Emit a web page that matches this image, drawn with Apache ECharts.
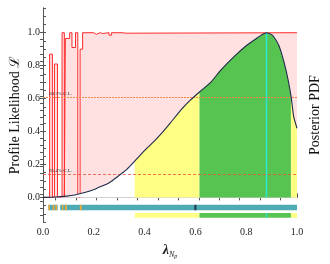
<!DOCTYPE html>
<html><head><meta charset="utf-8">
<script src="https://cdn.jsdelivr.net/npm/echarts@6/dist/echarts.min.js"></script>
<style>html,body{margin:0;padding:0;background:#fff}#c{width:330px;height:264px}</style>
</head><body><div id="c"></div>
<script>
// ---- data ----
const likeEdges  = [0, 0.026, 0.037, 0.045, 0.057, 0.075, 0.084, 0.088, 0.105, 0.114, 0.128, 0.137, 0.146, 0.156, 0.20, 0.21, 0.225, 0.235, 0.26, 0.27, 0.31, 0.33, 1.0];
const likeValues = [0,  0.87,  0,     0.81,  0,     1.0,   0,     0.965, 1.0,   0.91,  1.0,   0,     0.90,  1.0,   0.99, 1.0,  0.995, 1.0,   0.985,1.0,  0.997,1.0,  1.0];
const clLevels = [0.607, 0.135];
const clLabels = ['68.3% C.L.', '95.4% C.L.'];
const postX = [0.0, 0.05, 0.093, 0.125, 0.156, 0.19, 0.22, 0.25, 0.271, 0.297, 0.33, 0.361, 0.41, 0.44, 0.47, 0.50, 0.546, 0.58, 0.616, 0.661, 0.70, 0.75, 0.80, 0.84, 0.865, 0.88, 0.904, 0.929, 0.955, 0.976, 0.987, 1.0];
const postY = [0.0, 0.002, 0.008, 0.015, 0.027, 0.042, 0.061, 0.08, 0.10, 0.13, 0.17, 0.22, 0.30, 0.345, 0.395, 0.45, 0.536, 0.59, 0.64, 0.70, 0.773, 0.852, 0.921, 0.965, 0.99, 1.0, 0.984, 0.921, 0.783, 0.62, 0.49, 0.42];
const yellowRanges = [[0.361, 0.616], [0.976, 1.0]];
const greenRanges = [[0.616, 0.976]];
const postMode = 0.88;
const profTeal = [[0.021, 0.058], [0.068, 1.0]];
const profOrange = [[0.021, 0.027], [0.038, 0.044], [0.049, 0.055], [0.075, 0.080], [0.087, 0.094], [0.145, 0.152]];
const bestFit = 0.6;
const xTicks = [0, 0.2, 0.4, 0.6, 0.8, 1.0];
const yTicks = [0, 0.2, 0.4, 0.6, 0.8, 1.0];

// ---- build ----
const serif = 'Liberation Serif';
const likeData = likeEdges.map((x, i) => [x, likeValues[i]]);
const postData = postX.map((x, i) => [x, postY[i]]);
const inRange = r => postData.filter(p => p[0] >= r[0] - 1e-9 && p[0] <= r[1] + 1e-9);

const topTicks = []; for (let k = 0; k < 12; k++) topTicks.push(+(0.05 + k * 0.0805).toFixed(4));
const rightTicks = []; for (let k = 0; k < 27; k++) rightTicks.push(+(1.0 - k * 0.0426).toFixed(4));

function band(segs, yTop, yBot, color, z) {
  return {
    type: 'custom', coordinateSystem: 'cartesian2d', xAxisIndex: 0, yAxisIndex: 0, z: z || 5,
    silent: true, clip: true,
    data: segs.map(s => [s[0], s[1], (yTop + yBot) / 2]),
    encode: { x: [0, 1], y: 2 },
    renderItem: function (params, api) {
      const p0 = api.coord([api.value(0), yTop]);
      const p1 = api.coord([api.value(1), yBot]);
      return { type: 'rect', shape: { x: p0[0], y: p0[1], width: Math.max(p1[0] - p0[0], 1), height: p1[1] - p0[1] }, style: { fill: color } };
    }
  };
}
function area(data, color, z) {
  return { type: 'line', data: data, symbol: 'none', z: z, silent: true,
    lineStyle: { width: 0 }, areaStyle: { color: color, opacity: 1, origin: 'auto' } };
}

const yMin = -0.15, yMax = 1.15;
const option = {
  animation: false,
  grid: { left: 42, right: 27, top: 8, bottom: 36 },
  xAxis: [
    { type: 'value', min: 0, max: 1, interval: 0.2, position: 'bottom',
      axisLine: { lineStyle: { color: '#555', width: 1 } },
      axisTick: { inside: true, length: 4, lineStyle: { color: '#555' } },
      minorTick: { show: true, splitNumber: 4, length: 2, lineStyle: { color: '#555' } },
      splitLine: { show: false },
      axisLabel: { margin: 5, fontFamily: serif, fontSize: 10, color: '#222', formatter: v => v.toFixed(1) },
      name: '{l|λ}{s|N}{t|p}', nameLocation: 'middle', nameGap: 15,
      nameTextStyle: { rich: {
        l: { fontFamily: serif, fontSize: 14, fontStyle: 'italic', fontWeight: 'bold', color: '#222', lineHeight: 16, verticalAlign: 'top' },
        s: { fontFamily: serif, fontSize: 8, fontStyle: 'italic', color: '#222', lineHeight: 8, verticalAlign: 'bottom', padding: [8, 0, 0, 0] },
        t: { fontFamily: serif, fontSize: 6, fontStyle: 'italic', color: '#222', lineHeight: 6, verticalAlign: 'bottom', padding: [11, 0, 0, 0] }
      } }
    },
    { type: 'value', min: 0, max: 1, position: 'top',
      axisLine: { show: true, lineStyle: { color: '#555' } },
      axisTick: { show: true, inside: true, length: 3, customValues: topTicks, lineStyle: { color: '#555' } },
      axisLabel: { show: false }, splitLine: { show: false } }
  ],
  yAxis: [
    { type: 'value', min: yMin, max: yMax, interval: 0.05, position: 'left',
      axisLine: { show: true, lineStyle: { color: '#555' } },
      axisTick: { show: true, inside: true, length: 3, lineStyle: { color: '#555' } },
      axisLabel: { show: false }, splitLine: { show: false },
      name: 'Profile Likelihood ℒ', nameLocation: 'middle', nameGap: 21, nameRotate: 90,
      nameTextStyle: { fontFamily: serif, fontSize: 14, color: '#111' } },
    { type: 'value', min: yMin, max: yMax, position: 'right',
      axisLine: { show: true, lineStyle: { color: '#555' } },
      axisTick: { show: true, inside: true, length: 3, customValues: rightTicks, lineStyle: { color: '#555' } },
      axisLabel: { show: false }, splitLine: { show: false },
      name: 'Posterior PDF', nameLocation: 'middle', nameGap: 11, nameRotate: 90,
      nameTextStyle: { fontFamily: serif, fontSize: 14, color: '#111' } },
    { type: 'value', min: yMin, max: yMax, position: 'left',
      axisLine: { show: false },
      axisTick: { show: true, inside: false, length: 3, customValues: yTicks, lineStyle: { color: '#555' } },
      axisLabel: { show: true, customValues: yTicks, margin: 3, fontFamily: serif, fontSize: 10, color: '#222', formatter: v => v.toFixed(1) },
      splitLine: { show: false } }
  ],
  series: [
    { type: 'line', data: likeData, step: 'end', symbol: 'none', z: 1, silent: true,
      lineStyle: { color: '#ff2a2a', width: 1 },
      areaStyle: { color: '#ffe1e1', opacity: 1, origin: 'auto' },
      markLine: { symbol: 'none', silent: true, animation: false,
        label: { show: true, position: 'insideStartTop', distance: [6, 1], fontSize: 5, fontFamily: serif, color: '#333' },
        data: [
          { yAxis: clLevels[0], lineStyle: { color: '#f2894a', type: [2, 1], width: 1 }, label: { formatter: clLabels[0] } },
          { yAxis: clLevels[1], lineStyle: { color: '#e8503a', type: [3, 2], width: 0.8 }, label: { formatter: clLabels[1] } }
        ] } },
    area(postData, '#ffffff', 2),
    ...yellowRanges.map(r => area(inRange(r), '#ffff86', 3)),
    ...greenRanges.map(r => area(inRange(r), '#57c452', 3)),
    { type: 'line', data: [[postMode, 0], [postMode, 1.0]], symbol: 'none', z: 4, silent: true,
      lineStyle: { color: '#2ee6d6', width: 1.5 } },
    { type: 'line', data: postData, symbol: 'none', z: 5, silent: true, smooth: 0.2,
      lineStyle: { color: '#1d2b4a', width: 1.1 } },
    band(profTeal, -0.045, -0.078, '#4eaab3', 5),
    band(profOrange, -0.045, -0.078, '#f3a936', 6),
    band([[bestFit - 0.004, bestFit + 0.004]], -0.045, -0.078, '#1f3a4f', 6),
    band(yellowRanges, -0.095, -0.124, '#ffff86', 5),
    band(greenRanges, -0.095, -0.124, '#57c452', 5),
    band([[postMode - 0.0025, postMode + 0.0025]], -0.095, -0.124, '#2ee6d6', 6)
  ]
};
echarts.init(document.getElementById('c'), null, { renderer: 'canvas' }).setOption(option);
</script></body></html>
